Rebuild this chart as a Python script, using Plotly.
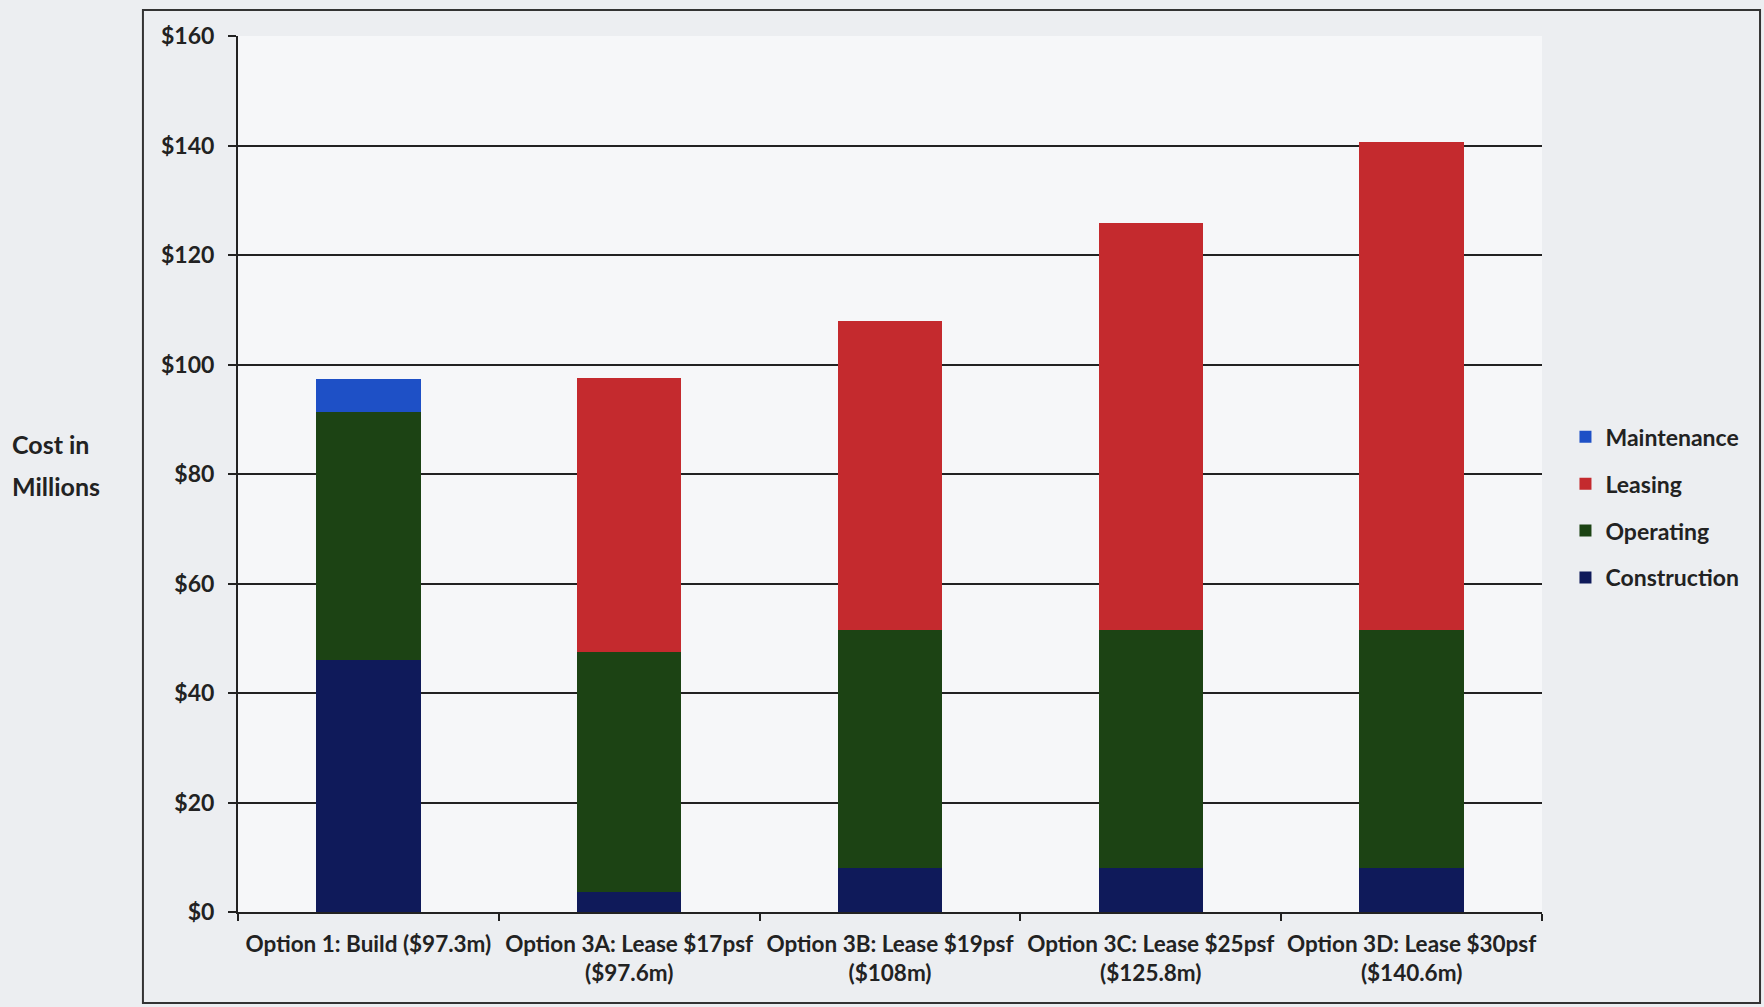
import plotly.graph_objects as go

categories = [
    "Option 1: Build ($97.3m)",
    "Option 3A: Lease $17psf<br>($97.6m)",
    "Option 3B: Lease $19psf<br>($108m)",
    "Option 3C: Lease $25psf<br>($125.8m)",
    "Option 3D: Lease $30psf<br>($140.6m)",
]
construction = [46.0, 3.7, 8.0, 8.0, 8.0]
operating = [45.3, 43.8, 43.5, 43.5, 43.5]
leasing = [0.0, 50.1, 56.5, 74.3, 89.1]
maintenance = [6.0, 0.0, 0.0, 0.0, 0.0]

tick_vals = [0, 20, 40, 60, 80, 100, 120, 140, 160]
tick_text = ["$0", "$20", "$40", "$60", "$80", "$100", "$120", "$140", "$160"]

series = [
    ("Construction", construction, "#0f1a5a", 4),
    ("Operating", operating, "#1c4314", 3),
    ("Leasing", leasing, "#c42a2e", 2),
    ("Maintenance", maintenance, "#1e50c6", 1),
]

FONT = "Lato"
fig = go.Figure()
for name, vals, col, rank in series:
    fig.add_trace(go.Bar(
        x=categories, y=vals, name=name, legendgroup=name, legendrank=rank,
        marker=dict(color=col, line=dict(width=0)),
    ))

fig.update_layout(
    width=1764, height=1007,
    barmode="stack", bargap=0.6,
    paper_bgcolor="#eceef1", plot_bgcolor="#f6f7f9",
    margin=dict(l=238, r=222, t=36, b=95, autoexpand=False),
    font=dict(family=FONT, color="#222222"),
    showlegend=True,
    legend=dict(
        traceorder="grouped", x=1.018, xanchor="left", y=0.462, yanchor="middle",
        font=dict(family=FONT, size=23, color="#222222", weight="bold"),
        tracegroupgap=14, bgcolor="rgba(0,0,0,0)", itemwidth=30,
    ),
    xaxis=dict(
        type="category", showline=True, linecolor="#222222", linewidth=2,
        ticks="outside", tickson="boundaries", ticklen=7, tickwidth=2, tickcolor="#222222",
        tickfont=dict(family=FONT, size=22.5, color="#222222", weight="bold"),
        tickangle=0, automargin=False,
        ticklabelstandoff=11,
        showgrid=False,
    ),
    yaxis=dict(
        range=[0, 160], tickvals=tick_vals, ticktext=tick_text,
        showline=True, linecolor="#222222", linewidth=2,
        ticks="outside", ticklen=8, tickwidth=2, tickcolor="#222222",
        tickfont=dict(family=FONT, size=23, color="#222222", weight="bold"),
        ticklabelstandoff=9, automargin=False,
        showgrid=True, gridcolor="#222222", gridwidth=2, zeroline=False,
    ),
    shapes=[dict(
        type="rect", xref="paper", yref="paper",
        x0=-0.0729, x1=1.1672, y0=-0.1039, y1=1.0297,
        line=dict(color="#333333", width=2), fillcolor="rgba(0,0,0,0)", layer="below",
    )],
    annotations=[
        dict(text="Cost in", xref="paper", yref="paper", x=-0.1745, y=(912 - 444) / 876,
             xanchor="left", yanchor="middle", showarrow=False,
             font=dict(family=FONT, size=25, color="#222222", weight="bold")),
        dict(text="Millions", xref="paper", yref="paper", x=-0.1745, y=(912 - 486) / 876,
             xanchor="left", yanchor="middle", showarrow=False,
             font=dict(family=FONT, size=25, color="#222222", weight="bold")),
    ],
)

fig.write_html("out.html")
